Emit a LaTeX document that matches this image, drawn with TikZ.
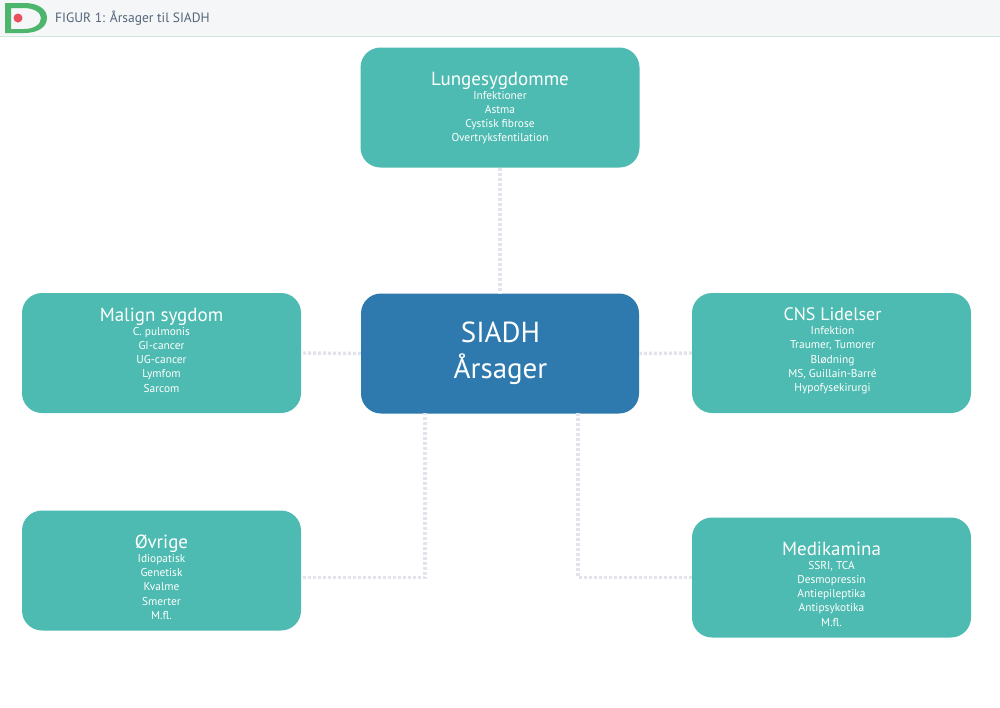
\documentclass[tikz,border=0pt]{standalone}
\usepackage{fontspec}
\setmainfont{PT Sans}
\definecolor{teal1}{HTML}{4DBBB1}
\definecolor{blue1}{HTML}{2E79AD}
\definecolor{dotc}{HTML}{E1E4EA}
\definecolor{headbg}{HTML}{F4F6F8}
\definecolor{headline}{HTML}{CFE8DC}
\definecolor{headtxt}{HTML}{556679}
\definecolor{logog}{HTML}{4DB56C}
\definecolor{logor}{HTML}{E8505B}
\tikzset{
  x=1pt,y=-1pt,
  box/.style={draw=none,fill=teal1,rounded corners=20pt,minimum width=279pt,minimum height=120pt,inner sep=0pt},
  mainbox/.style={draw=none,fill=blue1,rounded corners=20pt,minimum width=278pt,minimum height=120pt,inner sep=0pt},
  txt/.style={text=white,align=center,inner sep=0pt,font=\fontsize{11.4}{14.2}\selectfont},
  conn/.style={draw=dotc,line width=3.4pt,dash pattern=on 3pt off 2pt},
}
\newcommand{\ttl}[1]{{\fontsize{19}{15}\selectfont #1}}
\begin{document}
\begin{tikzpicture}
\useasboundingbox (0,0) rectangle (1000,707);
\fill[white] (0,0) rectangle (1000,707);
\fill[headbg] (0,0) rectangle (1000,36);
\draw[headline,line width=1pt] (0,36.5) -- (1000,36.5);
% logo
\fill[logog,even odd rule] (5,3) -- (24,3) .. controls (38,3) and (47,9) .. (47,18) .. controls (47,27) and (38,33) .. (24,33) -- (5,33) -- cycle
  (11,8) -- (11,29) -- (24,29) .. controls (33,29) and (41,25) .. (41,18) .. controls (41,12) and (33,8) .. (24,8) -- cycle;
\fill[logor] (18,18) circle (4.5);
\node[anchor=west,inner sep=0pt,text=headtxt,font=\fontsize{13.5}{16}\selectfont] (head) at (55,18.5) {FIGUR 1: Årsager til SIADH};
% boxes
\node[box] (lung) at (500,107.5) {};
\node[box] (malign) at (161.5,353) {};
\node[box] (cns) at (831.5,353) {};
\node[box] (ovr) at (161.5,570.5) {};
\node[box] (med) at (831.5,577.5) {};
\node[mainbox] (main) at (500,353.5) {};
% connector ends
\coordinate (ovrout) at (303,577.5);
\coordinate (mainl) at (425,413);
\coordinate (mainr) at (578,413);
\draw[conn] (lung.south) -- (main.north);
\draw[conn] (malign.east) ++(2,0) -- (main.west);
\draw[conn] (cns.west) -- (main.east);
\draw[conn] (ovrout) -| (mainl);
\draw[conn] (med.west) -| (mainr);
% texts
\node[txt,anchor=north] (tlung) at (500,71.5) {\ttl{Lungesygdomme}\\Infektioner\\Astma\\Cystisk fibrose\\Overtryksfentilation};
\node[txt,anchor=north] (tmalign) at (161.5,307.5) {\ttl{Malign sygdom}\\C. pulmonis\\GI-cancer\\UG-cancer\\Lymfom\\Sarcom};
\node[txt,anchor=north] (tcns) at (832.5,307.5) {{\fontsize{18}{15}\selectfont CNS Lidelser}\\Infektion\\Traumer, Tumorer\\Blødning\\MS, Guillain-Barré\\Hypofysekirurgi};
\node[txt,anchor=north] (tovr) at (161.5,534.5) {\ttl{Øvrige}\\Idiopatisk\\Genetisk\\Kvalme\\Smerter\\M.fl.};
\node[txt,anchor=north] (tmed) at (831.5,541.5) {\ttl{Medikamina}\\SSRI, TCA\\Desmopressin\\Antiepileptika\\Antipsykotika\\M.fl.};
\node[txt,anchor=center,font=\fontsize{29}{36}\selectfont] (tmain) at (500.5,353) {SIADH\\Årsager};
\end{tikzpicture}
\end{document}
